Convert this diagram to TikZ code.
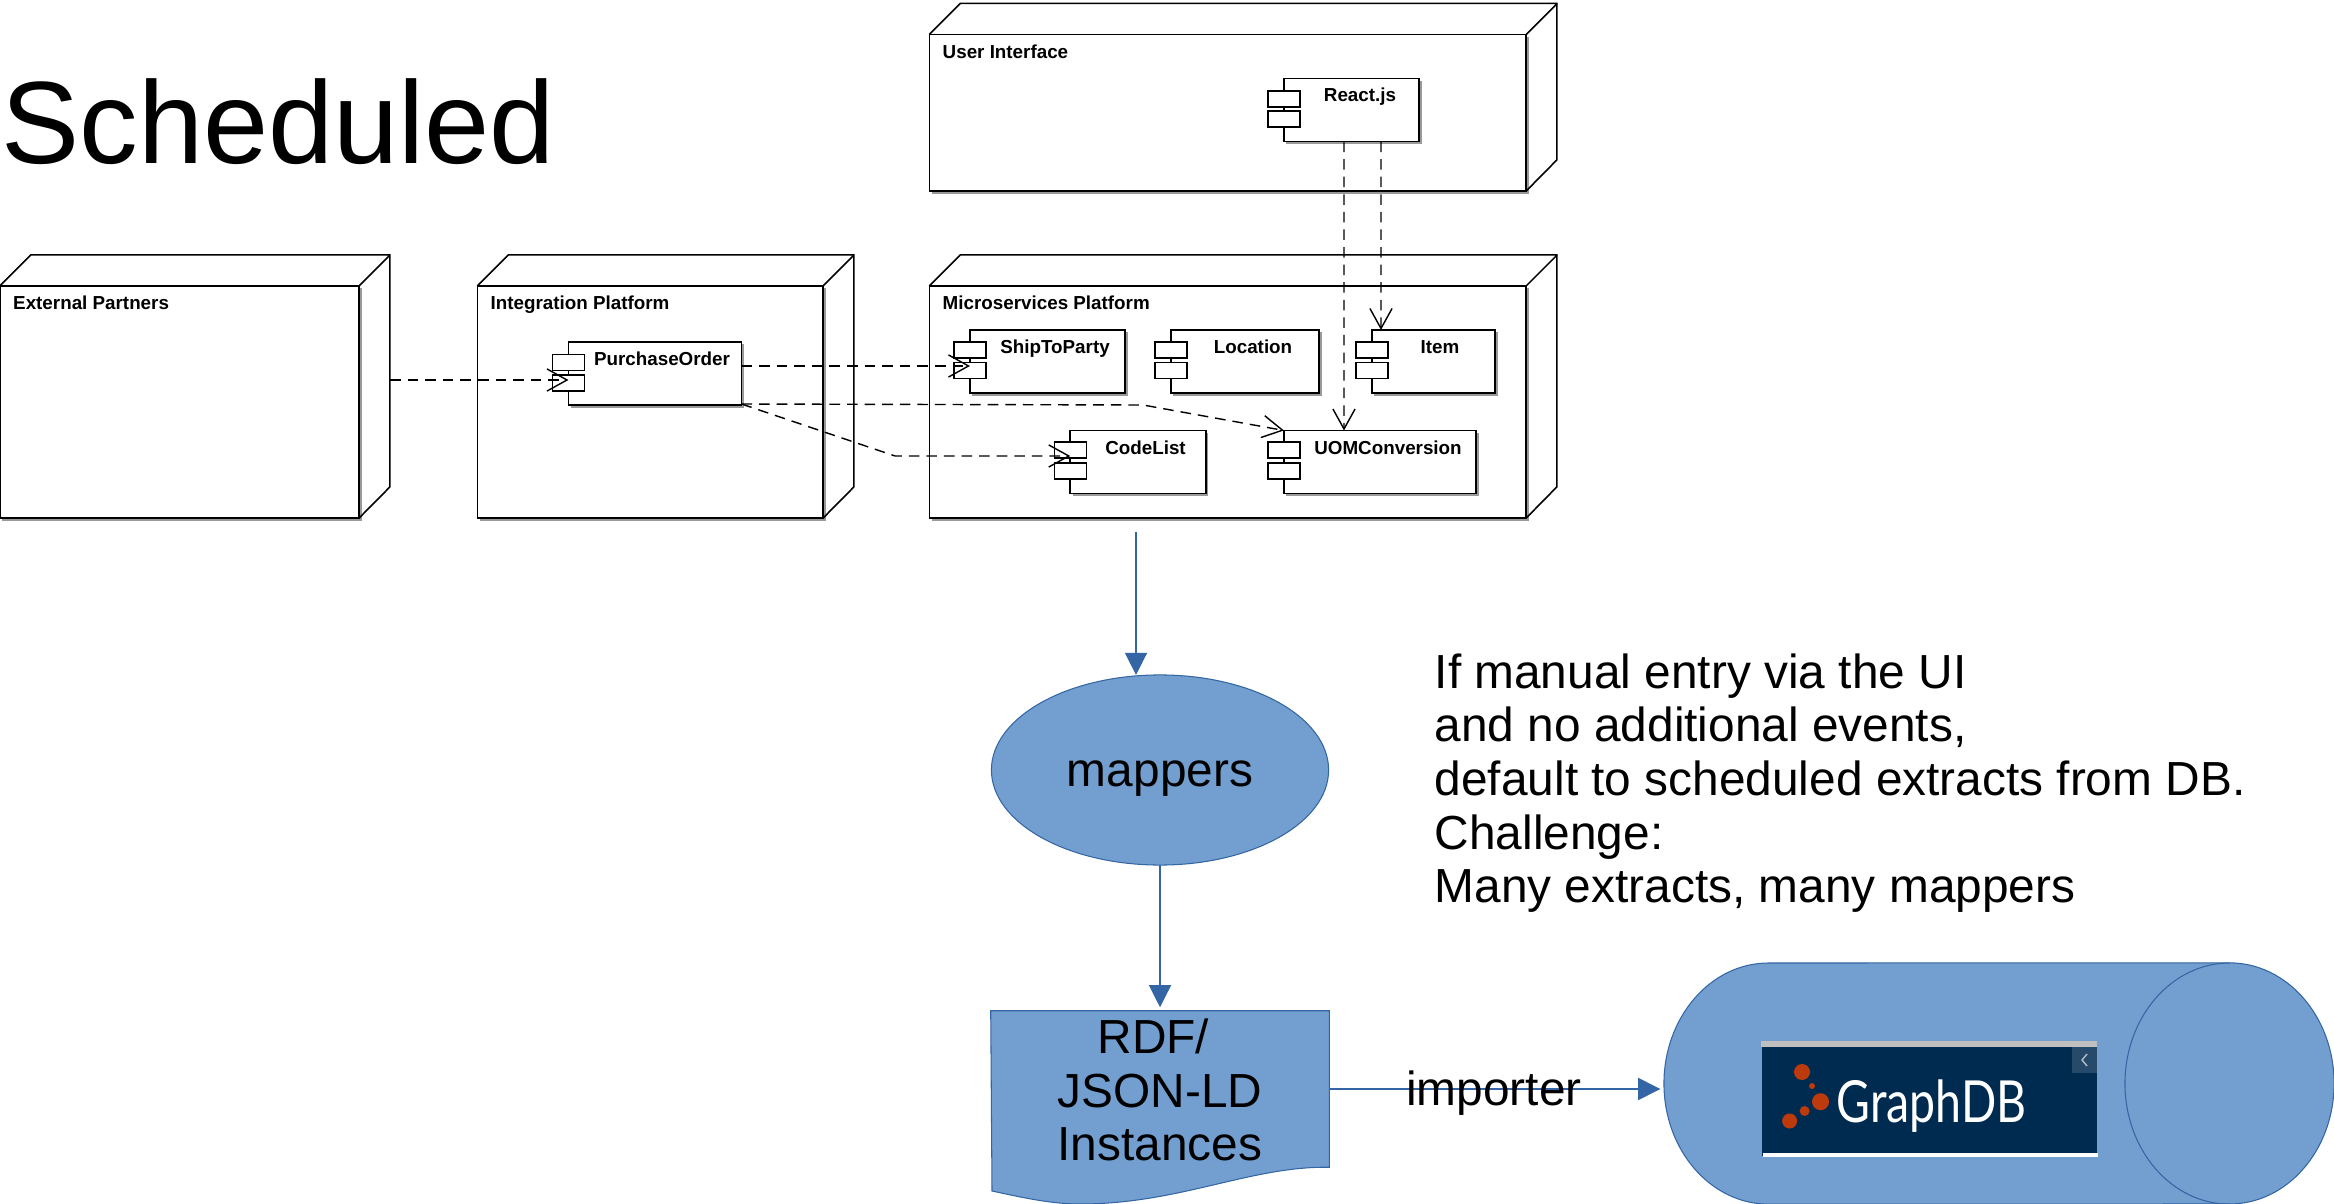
\documentclass[tikz,border=0pt]{standalone}
\usepackage{fontspec}
\setmainfont{Liberation Sans}
\usetikzlibrary{arrows.meta,shapes.geometric,shadows}

\begin{document}
\begin{tikzpicture}[x=0.01cm, y=-0.01cm,
    noeud/.style={draw, fill=white, line width=0.45pt, inner sep=0pt, outer sep=0pt, drop shadow={shadow xshift=0.025cm, shadow yshift=-0.025cm, fill=black!40, opacity=1}},
    composant/.style={noeud, minimum height=0.63cm},
    onglet/.style={draw, fill=white, line width=0.5pt, inner sep=0pt, minimum width=0.32cm, minimum height=0.16cm},
    titre/.style={anchor=base west, inner sep=0pt, font=\fontsize{5.35}{6}\selectfont\bfseries},
    nomcomp/.style={anchor=base, inner sep=0pt, font=\fontsize{5.35}{6}\selectfont\bfseries},
    dep/.style={draw, dash pattern=on 3pt off 2pt, line width=0.4pt, -{Straight Barb[length=5.7pt,width=6.3pt]}},
    bleu/.style={draw=blue3, fill=blue1, line width=0.3pt, inner sep=0pt, outer sep=0pt},
    fleche/.style={draw=blue3, line width=0.35pt, -{Triangle[length=6.3pt,width=6.3pt,color=blue3]}},
    texte/.style={inner sep=0pt, font=\fontsize{13.6}{15.25}\selectfont}]
    \definecolor{blue1}{HTML}{729FCF}
    \definecolor{blue3}{HTML}{3465A4}
    \definecolor{logofond}{HTML}{002B50}
    \definecolor{logorouge}{HTML}{BC3A0C}
    \useasboundingbox (0,0) rectangle (2334,1204);

    % Titre
    \node[anchor=base west, inner sep=0pt, font=\fontsize{33.3}{36}\selectfont] (titre) at (1,164) {Scheduled};

    % Les noeuds 3D
    \node[noeud, minimum width=5.965cm, minimum height=1.565cm] (ui) at (1227.75,112.75) {};
    \node[noeud, minimum width=3.59cm, minimum height=2.32cm] (ext) at (179.5,402) {};
    \node[noeud, minimum width=3.455cm, minimum height=2.32cm] (integ) at (650.25,402) {};
    \node[noeud, minimum width=5.965cm, minimum height=2.32cm] (micro) at (1227.75,402) {};
    \draw[line width=0.45pt] (ui.north west) -- ++(31,-31) -- ++(596.5,0) -- ++(0,156.5) -- (ui.south east) (ui.north east) -- ++(31,-31);
    \draw[line width=0.45pt] (ext.north west) -- ++(31,-31) -- ++(359,0) -- ++(0,232) -- (ext.south east) (ext.north east) -- ++(31,-31);
    \draw[line width=0.45pt] (integ.north west) -- ++(31,-31) -- ++(345.5,0) -- ++(0,232) -- (integ.south east) (integ.north east) -- ++(31,-31);
    \draw[line width=0.45pt] (micro.north west) -- ++(31,-31) -- ++(596.5,0) -- ++(0,232) -- (micro.south east) (micro.north east) -- ++(31,-31);
    \node[titre] (uititre) at (942,59) {User Interface};
    \node[titre] (exttitre) at (12.5,310) {External Partners};
    \node[titre] (integtitre) at (490,310) {Integration Platform};
    \node[titre] (microtitre) at (942,310) {Microservices Platform};

    % Les composants
    \node[composant, minimum width=1.35cm] (react) at (1351.5,110) {};
    \node[onglet] (reacta) at (1284,99) {};
    \node[onglet] (reactb) at (1284,119) {};
    \node[nomcomp] (reacttitre) at (1360,102) {React.js};

    \node[composant, minimum width=1.73cm] (po) at (655,373.5) {};
    \node[onglet] (poa) at (568.5,362.5) {};
    \node[onglet] (pob) at (568.5,383) {};
    \node[nomcomp] (potitre) at (662,366) {PurchaseOrder};

    \node[composant, minimum width=1.55cm] (ship) at (1047.5,361.5) {};
    \node[onglet] (shipa) at (970,350) {};
    \node[onglet] (shipb) at (970,370.5) {};
    \node[nomcomp] (shiptitre) at (1055,354) {ShipToParty};

    \node[composant, minimum width=1.48cm] (loc) at (1245,361.5) {};
    \node[onglet] (loca) at (1171,350) {};
    \node[onglet] (locb) at (1171,370.5) {};
    \node[nomcomp] (loctitre) at (1253,354) {Location};

    \node[composant, minimum width=1.23cm] (item) at (1433.5,361.5) {};
    \node[onglet] (itema) at (1372,350) {};
    \node[onglet] (itemb) at (1372,370.5) {};
    \node[nomcomp] (itemtitre) at (1440,354) {Item};

    \node[composant, minimum width=1.355cm] (code) at (1138,462) {};
    \node[onglet] (codea) at (1070.5,450) {};
    \node[onglet] (codeb) at (1070.5,471) {};
    \node[nomcomp] (codetitre) at (1145.5,455) {CodeList};

    \node[composant, minimum width=1.92cm] (uom) at (1380,462) {};
    \node[onglet] (uoma) at (1284,450) {};
    \node[onglet] (uomb) at (1284,471) {};
    \node[nomcomp] (uomtitre) at (1388,455) {UOMConversion};

    % Les dependances
    \draw[dep] (ext.east |- 0,380) ++(31,0) -- (po.west |- 0,380);
    \draw[dep] (po.east |- 0,366) -- (ship.west |- 0,366);
    \draw[dep] (po.south east) ++(0,-1) -- (1143,405) -- (uom.north west);
    \draw[dep] (po.south east) ++(0,-1) -- (895,456) -- (code.west |- 0,456);
    \draw[dep] ([xshift=-0.075cm]react.south) -- ([xshift=-0.36cm]uom.north);
    \draw[dep] ([xshift=0.295cm]react.south) -- ([xshift=-0.525cm]item.north);

    % Les formes bleues
    \coordinate (depart) at (1136,532);
    \node[bleu, ellipse, minimum width=3.37cm, minimum height=1.9cm] (mappers) at (1160,770) {};
    \node[inner sep=0pt, minimum width=3.37cm, minimum height=1.55cm] (rdf) at (1160,1089) {};
    \path[bleu] (rdf.north west) -- (rdf.north east) -- (rdf.south east)
        .. controls (1250,1166) and (1180,1204) .. (1080,1204)
        .. controls (1050,1204) and (1020,1197) .. (992,1191) -- cycle;
    \node[inner sep=0pt, outer sep=0pt, minimum width=6.7cm, minimum height=2.41cm] (graphdb) at (1999,1083.5) {};
    \path[bleu] (1768.5,963) arc[start angle=90, end angle=270, x radius=1.045cm, y radius=1.205cm]
        -- (2229.5,1204) arc[start angle=-90, end angle=90, x radius=1.045cm, y radius=1.205cm] -- cycle;
    \draw[draw=blue3, line width=0.3pt] (2229.5,963) arc[start angle=90, end angle=270, x radius=1.045cm, y radius=1.205cm];
    \node[texte, anchor=base] (mapperstitre) at (1160,787) {mappers};
    \node[texte, anchor=center, align=center] (rdftitre) at (1160,1090) {RDF/\hspace*{0.278em}\\JSON-LD\\Instances};

    \draw[fleche] (depart) -- (depart |- mappers.north);
    \draw[fleche, shorten >=1pt] (mappers) -- (rdf);
    \draw[fleche, shorten >=1pt] (rdf) -- (rdf -| graphdb.west);
    \node[texte, anchor=base] (importer) at (1494,1105) {importer};

    % Le texte
    \node[texte, anchor=north west, align=left] (note) at (1434,653) {If manual entry via the UI\\and no additional events,\\default to scheduled extracts from DB.\\Challenge:\\Many extracts, many mappers};

    % Le logo
    \node[fill=logofond, inner sep=0pt, minimum width=3.345cm, minimum height=1.14cm] (logo) at (1929.5,1099) {};
    \fill[black!25] (logo.north west) rectangle (2097,1046.5);
    \fill[white] (1762.5,1152.7) rectangle (logo.south east);
    \fill[white!15!logofond] (2072,1046.5) rectangle (2097,1072.5);
    \draw[white!70!logofond, line width=0.4pt] (2087,1054) -- (2082,1060) -- (2087,1066);
    \fill[logorouge] (1802,1072) circle (8);
    \fill[logorouge] (1812,1086) circle (3);
    \fill[logorouge] (1820.5,1101.7) circle (8.5);
    \fill[logorouge] (1804.6,1111) circle (5);
    \fill[logorouge] (1789.6,1121) circle (7.5);
    \node[anchor=base west, inner sep=0pt, text=white, xscale=0.8, font=\fontsize{16.5}{18}\selectfont\fontspec{Lato}] (logotitre) at (1836,1122) {GraphDB};
\end{tikzpicture}
\end{document}
